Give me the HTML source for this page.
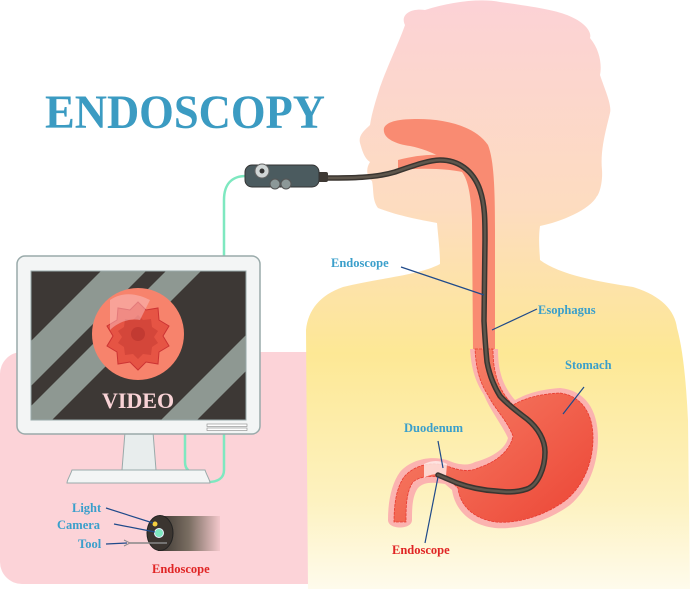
<!DOCTYPE html>
<html><head><meta charset="utf-8"><style>
html,body{margin:0;padding:0;background:#fff;}
svg{display:block;}
text{font-family:"Liberation Serif",serif;font-weight:bold;}
</style></head><body>
<svg width="695" height="589" viewBox="0 0 695 589" xmlns="http://www.w3.org/2000/svg">
<defs>
<linearGradient id="body" x1="0" y1="0" x2="0" y2="1">
<stop offset="0" stop-color="#fcd2d6"/>
<stop offset="0.35" stop-color="#fddcc0"/>
<stop offset="0.6" stop-color="#fde895"/>
<stop offset="0.85" stop-color="#fdf2c0"/>
<stop offset="1" stop-color="#fefbec"/>
</linearGradient>
<linearGradient id="stom" x1="0" y1="0" x2="1" y2="1">
<stop offset="0" stop-color="#f98c72"/>
<stop offset="1" stop-color="#ec4535"/>
</linearGradient>
<linearGradient id="tip" x1="0" y1="0" x2="1" y2="0">
<stop offset="0" stop-color="#3b3530"/>
<stop offset="0.5" stop-color="#7a6e62"/>
<stop offset="1" stop-color="#f4c8cc"/>
</linearGradient>
</defs>
<rect x="0" y="352" width="385" height="232" rx="22" fill="#fcd3d8"/>
<path d="M380,87 C390,60 400,40 405,25 C400,15 410,8 425,10 C450,2 480,-2 500,2 C530,6 555,10 567,15 C585,22 592,32 590,38 C600,50 602,65 600,75 C605,90 612,105 610,113 C606,130 600,150 602,170 C603,185 598,196 597,196 C590,210 560,222 540,226 C538,240 540,255 540,260 C560,275 600,282 633,287 C660,295 675,310 677,328 C683,350 686,380 688,420 L690,589 L308,589 L306,330 C308,310 320,295 343,287 C380,278 420,275 440,264 C440,250 438,235 437,223 C420,220 395,215 378,208 C372,200 374,190 372,181 C366,176 366,168 370,162 C364,158 362,150 360,143 C358,135 365,130 370,125 C372,112 376,100 380,87 Z" fill="url(#body)"/>
<!-- oral cavity / palate -->
<path d="M384,128 C387,121 400,119 418,119 C445,119 475,126 488,145 C494,160 495,190 495,230 L495,352 L473,352 L472,220 C471,195 468,180 462,172 C455,164 432,150 410,146 C395,144 382,138 384,128 Z" fill="#f98b72"/>
<path d="M398,160 C420,154 448,152 466,160 L470,174 C450,168 420,168 398,170 Z" fill="#f98b72"/>
<!-- stomach outline -->
<path d="M470,349 L498,349 C498,370 502,385 515,400 C525,395 535,390 560,388 C585,390 598,410 598,438 C598,465 588,490 570,505 C550,520 520,530 495,528 C470,525 455,510 452,490 L445,484 C432,482 424,482 418,488 C412,496 412,510 412,520 C412,530 388,530 388,520 C388,500 392,483 400,472 C410,460 430,455 447,460 C458,465 468,466 475,462 C490,458 505,450 508,438 C502,425 490,410 484,395 C474,380 471,365 470,349 Z" fill="#fbb3b0"/>
<path d="M475,349 L493,349 C493,372 498,390 513,405 C525,398 540,394 560,393 C582,396 593,414 593,438 C593,463 583,486 566,500 C546,515 518,524 496,522 C474,519 460,506 458,488 L447,478 C433,475 420,476 413,482 C406,492 406,508 406,522 L394,522 C394,502 397,487 404,477 C414,465 432,461 447,466 C460,471 470,472 478,468 C494,463 510,452 513,436 C507,420 494,408 488,395 C478,380 476,365 475,349 Z" fill="url(#stom)" stroke="#e83a30" stroke-width="0.8" stroke-dasharray="3 1"/>
<path d="M424,464 C432,460 440,460 447,464 L446,476 C438,473 430,474 424,478 Z" fill="#fff0ee" opacity="0.8"/>
<!-- endoscope tube -->
<path d="M327,178 C350,178 375,178 395,172 C415,165 430,160 440,160 C458,160 473,170 480,190 C485,205 485,220 485,240 L484,321 C485,340 486,352 487,362 C490,378 495,388 500,396 C508,405 518,412 527,419 C538,428 545,440 545,452 C545,468 538,485 527,489 C515,493 505,492 496,491 C480,490 468,487 457,483 C450,480 443,477 438,475" fill="none" stroke="#3a3530" stroke-width="5.5" stroke-linecap="round"/>
<path d="M327,178 C350,178 375,178 395,172 C415,165 430,160 440,160 C458,160 473,170 480,190 C485,205 485,220 485,240 L484,321 C485,340 486,352 487,362 C490,378 495,388 500,396 C508,405 518,412 527,419 C538,428 545,440 545,452 C545,468 538,485 527,489 C515,493 505,492 496,491 C480,490 468,487 457,483 C450,480 443,477 438,475" fill="none" stroke="#5e564c" stroke-width="2.5" stroke-linecap="round"/>
<path d="M246,176 C232,176 224,184 224,200 L224,470 C224,478 218,482 208,482" fill="none" stroke="#7ee8c0" stroke-width="2.5"/>
<path d="M185,430 L185,462 C185,470 190,473 198,473" fill="none" stroke="#7ee8c0" stroke-width="2.5"/>
<rect x="316" y="172" width="12" height="10" rx="2" fill="#3e3934"/>
<rect x="245" y="165" width="74" height="22" rx="7" fill="#4b5b5f" stroke="#333" stroke-width="1"/>
<circle cx="275" cy="184" r="5" fill="#8c9898" stroke="#555"/>
<circle cx="286" cy="184" r="5" fill="#8c9898" stroke="#555"/>
<circle cx="262" cy="171" r="7" fill="#d0d6d6" stroke="#666"/>
<circle cx="262" cy="171" r="2.5" fill="#333"/>
<path d="M125,432 L153,432 L156,470 L122,470 Z" fill="#e8eded" stroke="#9aa"/>
<path d="M72,470 C70,476 67,480 67,483 L210,483 C210,480 207,476 205,470 Z" fill="#f3f5f5" stroke="#9aa"/>
<rect x="17" y="256" width="243" height="178" rx="8" fill="#f3f5f5" stroke="#9aa" stroke-width="1.5"/>
<svg x="31" y="271" width="215" height="149">
<rect width="215" height="149" fill="#3d3835"/>
<path d="M0,70 L70,0 L115,0 L0,115 Z" fill="#8e9892"/>
<path d="M0,149 L0,135 L135,0 L170,0 L21,149 Z" fill="#8e9892"/>
<path d="M130,149 L215,64 L215,100 L166,149 Z" fill="#8e9892"/>
</svg>
<rect x="31" y="271" width="215" height="149" fill="none" stroke="#9aa"/>
<circle cx="138" cy="334" r="46" fill="#f7836c"/>
<path d="M138,302 l8,8 12,-2 1,12 10,6 -6,10 6,10 -10,6 -1,12 -12,-2 -8,8 -8,-8 -12,2 -1,-12 -10,-6 6,-10 -6,-10 10,-6 1,-12 12,2 Z" fill="#e65444" stroke="#c33" stroke-width="1"/>
<path d="M138,315 l5,5 8,-1 1,8 6,4 -4,6 4,6 -6,4 -1,8 -8,-1 -5,5 -5,-5 -8,1 -1,-8 -6,-4 4,-6 -4,-6 6,-4 1,-8 8,1 Z" fill="#d4463a"/>
<circle cx="138" cy="334" r="7" fill="#c23a32"/>
<path d="M110,300 C125,290 140,295 150,300 L140,320 C130,318 118,322 110,330 Z" fill="#f9c2c4" opacity="0.5"/>
<text x="138" y="408" font-size="22" fill="#f9d3d6" text-anchor="middle">VIDEO</text>
<rect x="207" y="424" width="40" height="2.5" fill="#fff" stroke="#888" stroke-width="0.6"/>
<rect x="207" y="428" width="40" height="2.5" fill="#fff" stroke="#888" stroke-width="0.6"/>
<rect x="158" y="516" width="62" height="35" fill="url(#tip)"/>
<ellipse cx="160" cy="533" rx="13" ry="17.5" fill="#3b3530" stroke="#222"/>
<circle cx="155" cy="524" r="2.5" fill="#f4d040"/>
<circle cx="159" cy="533" r="4.5" fill="#7ee8c0" stroke="#eef"/>
<path d="M130,543 L167,543" stroke="#888" stroke-width="1.5"/>
<path d="M130,543 l-6,-3 M130,543 l-6,3" stroke="#888" stroke-width="1"/>
<g stroke="#1f4a8a" stroke-width="1.2" fill="none">
<path d="M106,508 L153,523"/>
<path d="M114,524 L155,532"/>
<path d="M106,544 L127,543"/>
<path d="M401,267 L484,295"/>
<path d="M537,309 L492,330"/>
<path d="M584,387 L563,414"/>
<path d="M438,441 L443,468"/>
<path d="M425,543 L438,477"/>
</g>
<text x="45" y="128" font-size="48" fill="#3b9bc2" textLength="280" lengthAdjust="spacingAndGlyphs">ENDOSCOPY</text>
<g font-size="12.5" fill="#3a9fcb">
<text x="331" y="267">Endoscope</text>
<text x="538" y="314">Esophagus</text>
<text x="565" y="369">Stomach</text>
<text x="404" y="432">Duodenum</text>
<text x="72" y="512">Light</text>
<text x="57" y="529">Camera</text>
<text x="78" y="548">Tool</text>
</g>
<g font-size="12.5" fill="#e02424">
<text x="392" y="554">Endoscope</text>
<text x="152" y="573">Endoscope</text>
</g>
</svg>
</body></html>
